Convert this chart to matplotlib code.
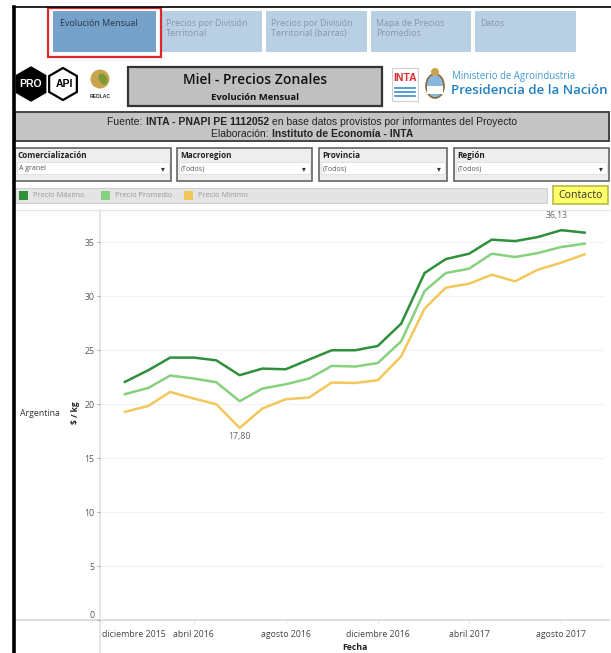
import matplotlib

matplotlib.use("Agg")
import matplotlib.pyplot as plt
from matplotlib.patches import Rectangle, RegularPolygon, Circle, Ellipse
from datetime import datetime
import numpy as np

# monthly honey prices, $ / kg (A granel, Argentina)
months = ["2016-01", "2016-02", "2016-03", "2016-04", "2016-05", "2016-06",
          "2016-07", "2016-08", "2016-09", "2016-10", "2016-11", "2016-12",
          "2017-01", "2017-02", "2017-03", "2017-04", "2017-05", "2017-06",
          "2017-07", "2017-08", "2017-09"]
precio_max = [22.07, 23.15, 24.32, 24.32, 24.07, 22.69, 23.30, 23.24, 24.14,
              25.00, 25.00, 25.40, 27.47, 32.16, 33.45, 33.95, 35.25, 35.12,
              35.49, 36.13, 35.90]
precio_prom = [20.93, 21.51, 22.66, 22.38, 22.04, 20.28, 21.45, 21.85, 22.38,
               23.55, 23.49, 23.82, 25.83, 30.49, 32.16, 32.56, 33.95, 33.64,
               34.01, 34.57, 34.88]
precio_min = [19.29, 19.84, 21.14, 20.53, 20.00, 17.80, 19.60, 20.46, 20.62,
              22.01, 21.97, 22.22, 24.44, 28.86, 30.80, 31.17, 32.00, 31.39,
              32.47, 33.12, 33.89]
tick_dates = ["2015-12", "2016-04", "2016-08", "2016-12", "2017-04", "2017-08"]
tick_labels = ["diciembre 2015", "abril 2016", "agosto 2016",
               "diciembre 2016", "abril 2017", "agosto 2017"]
y_ticks = [0, 5, 10, 15, 20, 25, 30, 35]

tabs = ["Evolución Mensual", "Precios por División\nTerritorial",
        "Precios por División\nTerritorial (barras)",
        "Mapa de Precios\nPromedios", "Datos"]
filters = [("Comercialización", "A granel"), ("Macroregion", "(Todos)"),
           ("Provincia", "(Todos)"), ("Región", "(Todos)")]
legend_names = ["Precio Máximo", "Precio Promedio", "Precio Mínimo"]

C_MAX = "#2f8f3b"
C_PROM = "#86d17d"
C_MIN = "#f3c85a"
UI = "Open Sans"
ARIAL = "Liberation Sans"

W, H = 611, 653
fig = plt.figure(figsize=(W / 100, H / 100), dpi=100)
bg = fig.add_axes([0, 0, 1, 1], zorder=0)
bg.set_xlim(0, W)
bg.set_ylim(H, 0)
bg.axis("off")


def box(x0, y0, x1, y1, fc, ec="none", lw=1.0, z=1):
    bg.add_patch(Rectangle((x0, y0), x1 - x0, y1 - y0, fc=fc, ec=ec, lw=lw,
                           zorder=z))


def runs(xc, y, parts, size, color="#222", family=ARIAL):
    """centered line made of (text, weight) runs"""
    r = fig.canvas.get_renderer()
    objs = [bg.text(0, y, s, fontsize=size, fontweight=w, color=color,
                    family=family, va="center", ha="left", zorder=5)
            for s, w in parts]
    widths = [o.get_window_extent(r).width for o in objs]
    x = xc - sum(widths) / 2
    for o, w in zip(objs, widths):
        o.set_x(x)
        x += w


# outer frame
bg.plot([13, W], [7, 7], color="black", lw=1.2, zorder=6)
bg.plot([14, 14], [7, H], color="black", lw=2.6, zorder=6)

# tabs
tab_x = [(53, 156), (161, 262), (266, 367), (371, 471), (475, 576)]
for i, ((x0, x1), label) in enumerate(zip(tab_x, tabs)):
    active = i == 0
    box(x0, 11, x1, 52, "#76a1c9" if active else "#b9d0e4")
    bg.text(x0 + (7 if active else 5), 19, label, fontsize=6.4, family=UI,
            color="#27384a" if active else "#8696a7", va="top", ha="left",
            linespacing=1.2, zorder=5)
box(48, 8, 161, 57, "none", "#e0262a", 1.6, z=4)

# logos, left
bg.add_patch(RegularPolygon((31, 84), 6, radius=17, fc="black", ec="black",
                            lw=1, zorder=2))
bg.add_patch(RegularPolygon((63, 84), 6, radius=16, fc="white", ec="black",
                            lw=1.6, zorder=2))
bg.text(31, 84, "PRO", fontsize=7.5, fontweight="bold", color="white",
        family=ARIAL, ha="center", va="center", zorder=3)
bg.text(64, 84, "API", fontsize=7.5, fontweight="bold", color="black",
        family=ARIAL, ha="center", va="center", zorder=3)
bg.add_patch(Circle((100, 79), 9.5, fc="#c9a44e", ec="none", zorder=2))
bg.add_patch(Ellipse((103, 79), 8, 12, angle=-30, fc="#7a9a3a", ec="none",
                     zorder=3))
bg.text(100, 96, "REDLAC", fontsize=3.6, fontweight="bold", color="#333",
        family=ARIAL, ha="center", va="center")

# title box
box(128, 67, 382, 106, "#c0c0c0", "#333333", 1.6)
bg.text(255, 80, "Miel - Precios Zonales", fontsize=10, fontweight="semibold",
        family=UI, ha="center", va="center", color="#111", zorder=5)
bg.text(255, 97, "Evolución Mensual", fontsize=6.8, fontweight="bold",
        family=UI, ha="center", va="center", color="#111", zorder=5)

# logos, right
box(392, 68, 418, 101, "white", "#d0d0d0", 0.8)
bg.text(405, 78, "INTA", fontsize=7.5, fontweight="bold", color="#e0262a",
        family=ARIAL, ha="center", va="center", zorder=5)
for yy in (88, 92, 96):
    bg.plot([395, 415], [yy, yy], color="#3a8cd0", lw=1.2, zorder=4)
bg.add_patch(Ellipse((435, 86), 18, 24, fc="#8ab8dc", ec="#8a6a3a", lw=1.2,
                     zorder=2))
bg.add_patch(Rectangle((427, 86), 16, 8, fc="white", ec="none", zorder=3))
bg.add_patch(Circle((435, 72), 4, fc="#c9a44e", ec="none", zorder=3))
bg.text(452, 77, "Ministerio de Agroindustria", fontsize=6.9, family=UI,
        color="#3e9ad6", ha="left", va="center")
bg.text(451, 90, "Presidencia de la Nación", fontsize=9.5, family=UI,
        fontweight="semibold", color="#1f7fc2", ha="left", va="center")

# source box
box(15, 112, 609, 141, "#c4c4c4", "#444444", 1.4)
runs(312, 122, [("Fuente: ", "normal"), ("INTA - PNAPI PE 1112052", "bold"),
                (" en base datos provistos por informantes del Proyecto",
                 "normal")], 7.5, "#222")
runs(312, 134, [("Elaboración: ", "normal"),
                ("Instituto de Economía - INTA", "bold")], 7.5, "#222")

# filter boxes
filter_x = [(15, 171), (177, 312), (319, 447), (454, 609)]
for (x0, x1), (title, value) in zip(filter_x, filters):
    box(x0, 148, x1, 181, "#eeeeee", "#666666", 1.2)
    bg.text(x0 + 3, 155, title, fontsize=5.9, fontweight="bold", family=UI,
            color="#222", ha="left", va="center", zorder=5)
    box(x0 + 2, 162, x1 - 2, 174, "white", "#dddddd", 0.6, z=2)
    bg.text(x0 + 4, 168.5, value, fontsize=5, family=UI, color="#555",
            ha="left", va="center", zorder=5)
    bg.text(x1 - 8, 168.5, "▾", fontsize=5.5, family="DejaVu Sans",
            color="#333", ha="center", va="center", zorder=5)

# legend bar and contact button
box(15, 188, 547, 203, "#e4e4e4", "#cfcfcf", 0.8)
leg_x = [19, 101, 184]
for x0, name, col in zip(leg_x, legend_names, [C_MAX, C_PROM, C_MIN]):
    box(x0, 191, x0 + 9, 200, col, z=3)
    bg.text(x0 + 14, 195.5, name, fontsize=5.4, family=UI, color="#9a9a9a",
            ha="left", va="center", zorder=5)
box(553, 186, 608, 204, "#ffff6a", "#b9b948", 1.2)
bg.text(580.5, 195, "Contacto", fontsize=7.6, family=UI, color="#333",
        ha="center", va="center", zorder=5)

# chart frame lines
bg.plot([15, 609], [209.5, 209.5], color="#e6e6e6", lw=1, zorder=1)
bg.plot([100, 100], [209.5, H], color="#e2e2e2", lw=1.2, zorder=1)
bg.plot([15, 609], [620, 620], color="#d8d8d8", lw=1.2, zorder=1)
bg.text(20, 413, "Argentina", fontsize=6.3, family=UI, color="#333",
        ha="left", va="center")
bg.text(75, 413, "$ / kg", fontsize=6, family=UI, fontweight="bold",
        color="#222", rotation=90, ha="center", va="center")
bg.text(355, 647, "Fecha", fontsize=6.3, family=UI, fontweight="bold",
        color="#222", ha="center", va="center")

# the chart itself
dates = [datetime.strptime(m, "%Y-%m") for m in months]
ax = fig.add_axes([100 / W, (H - 620) / H, 505 / W, 410 / H], zorder=2)
ax.patch.set_alpha(0)
for s in ax.spines.values():
    s.set_visible(False)
ax.plot(dates, precio_min, color=C_MIN, lw=1.8, solid_joinstyle="round",
        zorder=3)
ax.plot(dates, precio_prom, color=C_PROM, lw=1.8, solid_joinstyle="round",
        zorder=4)
ax.plot(dates, precio_max, color=C_MAX, lw=1.8, solid_joinstyle="round",
        zorder=5)
ax.set_xlim(datetime(2015, 11, 29), datetime(2017, 9, 28))
ax.set_ylim(0, 38)

ax.set_yticks(y_ticks)
ax.set_yticklabels([str(v) for v in y_ticks], fontsize=6.3, family=UI,
                   color="#555")
ax.tick_params(axis="y", length=2.5, width=0.6, color="#999", pad=1.5)
ax.get_yticklabels()[0].set_va("bottom")
ax.grid(axis="y", color="#f2f2f2", lw=0.8)
ax.set_axisbelow(True)

ticks = [datetime.strptime(m, "%Y-%m") for m in tick_dates]
ax.set_xticks(ticks)
ax.set_xticklabels(tick_labels, fontsize=6.3, family=UI, color="#444")
ax.tick_params(axis="x", length=3, width=0.6, color="#e0e0e0", pad=4)
ax.get_xticklabels()[0].set_ha("left")

imax = int(np.argmax(precio_max))
imin = int(np.argmin(precio_min))
ax.annotate(f"{precio_max[imax]:.2f}".replace(".", ","),
            (dates[imax], precio_max[imax]), xytext=(-3, 7),
            textcoords="offset points", ha="center", va="bottom",
            fontsize=6.3, family=UI, color="#666")
ax.annotate(f"{precio_min[imin]:.2f}".replace(".", ","),
            (dates[imin], precio_min[imin]), xytext=(0, -3),
            textcoords="offset points", ha="center", va="top",
            fontsize=6.3, family=UI, color="#666")

fig.savefig("out.png", dpi=100, facecolor="white")
